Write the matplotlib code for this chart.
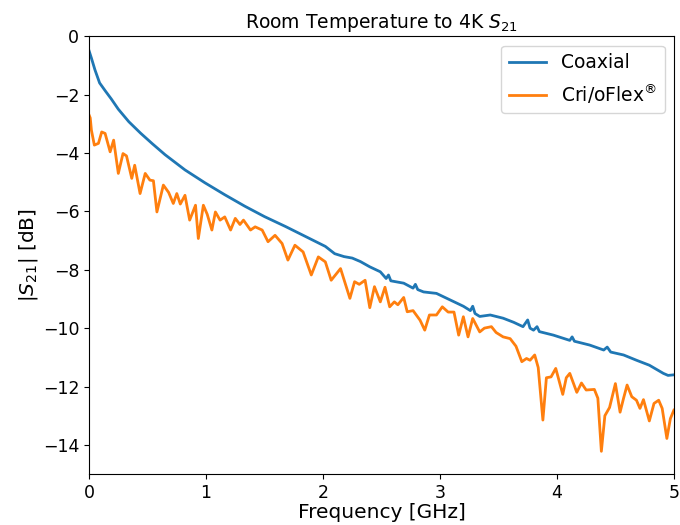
import matplotlib
matplotlib.use("Agg")
import matplotlib.pyplot as plt

# ====================== DATA ======================
coax_freq = [0.00, 0.02, 0.05, 0.09, 0.14, 0.19, 0.25, 0.34, 0.44, 0.54, 0.65,
             0.82, 0.99, 1.16, 1.33, 1.50, 1.68, 1.85, 2.02, 2.10, 2.18, 2.25,
             2.32, 2.40, 2.49, 2.54, 2.56, 2.58, 2.69, 2.77, 2.79, 2.81, 2.86,
             2.97, 3.09, 3.20, 3.26, 3.28, 3.30, 3.34, 3.43, 3.54, 3.63, 3.71,
             3.75, 3.77, 3.80, 3.83, 3.85, 3.97, 4.11, 4.13, 4.15, 4.28, 4.40,
             4.43, 4.46, 4.57, 4.68, 4.79, 4.91, 4.95, 5.00]
coax_s21 = [-0.50, -0.75, -1.15, -1.60, -1.88, -2.15, -2.50, -2.93, -3.32, -3.68,
            -4.06, -4.58, -5.02, -5.43, -5.82, -6.18, -6.52, -6.86, -7.20, -7.45,
            -7.55, -7.60, -7.72, -7.90, -8.07, -8.30, -8.18, -8.38, -8.46, -8.63,
            -8.50, -8.68, -8.76, -8.81, -9.04, -9.25, -9.40, -9.25, -9.50, -9.60,
            -9.55, -9.66, -9.80, -9.95, -9.72, -10.00, -10.07, -9.95, -10.12,
            -10.24, -10.42, -10.30, -10.45, -10.58, -10.75, -10.65, -10.82,
            -10.92, -11.10, -11.27, -11.55, -11.62, -11.60]

flex_freq = [0.00, 0.01, 0.02, 0.045, 0.08, 0.108, 0.137, 0.18, 0.21, 0.25, 0.29,
             0.32, 0.365, 0.39, 0.436, 0.48, 0.52, 0.55, 0.58, 0.635, 0.68, 0.72,
             0.75, 0.78, 0.82, 0.86, 0.91, 0.934, 0.977, 1.01, 1.05, 1.08, 1.12,
             1.16, 1.21, 1.25, 1.29, 1.32, 1.38, 1.42, 1.48, 1.53, 1.59, 1.65,
             1.70, 1.76, 1.83, 1.90, 1.96, 2.02, 2.07, 2.15, 2.23, 2.27, 2.31,
             2.36, 2.40, 2.44, 2.49, 2.53, 2.57, 2.61, 2.64, 2.69, 2.72, 2.77,
             2.83, 2.87, 2.91, 2.97, 3.02, 3.07, 3.12, 3.16, 3.20, 3.24, 3.28,
             3.34, 3.38, 3.44, 3.48, 3.54, 3.60, 3.65, 3.70, 3.74, 3.77, 3.81,
             3.84, 3.88, 3.91, 3.95, 3.99, 4.05, 4.08, 4.11, 4.17, 4.21, 4.25,
             4.32, 4.35, 4.38, 4.41, 4.45, 4.50, 4.54, 4.57, 4.60, 4.64, 4.68,
             4.71, 4.74, 4.79, 4.83, 4.87, 4.90, 4.94, 4.97, 5.00]
flex_s21 = [-2.70, -2.80, -3.22, -3.73, -3.67, -3.28, -3.33, -3.96, -3.56, -4.70,
            -4.02, -4.10, -4.87, -4.42, -5.39, -4.70, -4.93, -4.95, -6.02, -5.10,
            -5.35, -5.73, -5.39, -5.75, -5.45, -6.30, -5.79, -6.93, -5.79, -6.10,
            -6.64, -6.02, -6.30, -6.19, -6.64, -6.24, -6.45, -6.30, -6.64, -6.53,
            -6.64, -7.04, -6.82, -7.10, -7.67, -7.16, -7.39, -8.18, -7.56, -7.73,
            -8.36, -7.96, -8.98, -8.41, -8.50, -8.36, -9.30, -8.58, -9.10, -8.60,
            -9.27, -9.10, -9.20, -8.95, -9.44, -9.40, -9.73, -10.07, -9.55, -9.55,
            -9.27, -9.45, -9.45, -10.24, -9.61, -10.30, -9.67, -10.13, -10.00,
            -9.95, -10.15, -10.30, -10.36, -10.62, -11.15, -11.04, -11.10, -10.92,
            -11.35, -13.15, -11.70, -11.67, -11.38, -12.27, -11.70, -11.55, -12.20,
            -11.88, -12.12, -12.10, -12.40, -14.22, -13.00, -12.72, -11.90, -12.88,
            -12.40, -11.95, -12.35, -12.47, -12.75, -12.45, -13.18, -12.58, -12.47,
            -12.75, -13.78, -13.10, -12.81]

x_ticks = [0, 1, 2, 3, 4, 5]
y_ticks = [0, -2, -4, -6, -8, -10, -12, -14]
# ===========================================================================

fig, ax = plt.subplots(figsize=(6.8, 5.25), dpi=100)
fig.subplots_adjust(left=0.131, right=0.991, top=0.931, bottom=0.097)

ax.plot(coax_freq, coax_s21, color="#1f77b4", lw=2, label="Coaxial")
ax.plot(flex_freq, flex_s21, color="#ff7f0e", lw=2, label=r"Cri/oFlex$^{\circledR}$")

ax.set_xlim(0, 5)
ax.set_ylim(-15, 0)
ax.set_xticks(x_ticks)
ax.set_yticks(y_ticks)
ax.tick_params(labelsize=12.5)

ax.set_title(r"Room Temperature to 4K $S_{21}$", fontsize=13.5)
ax.set_xlabel("Frequency [GHz]", fontsize=14.5, labelpad=1)
ax.set_ylabel(r"$|S_{21}|$ [dB]", fontsize=14.5, labelpad=2)
ax.legend(loc="upper right", fontsize=13.5)

fig.savefig("out.png", dpi=100)
plt.close(fig)
